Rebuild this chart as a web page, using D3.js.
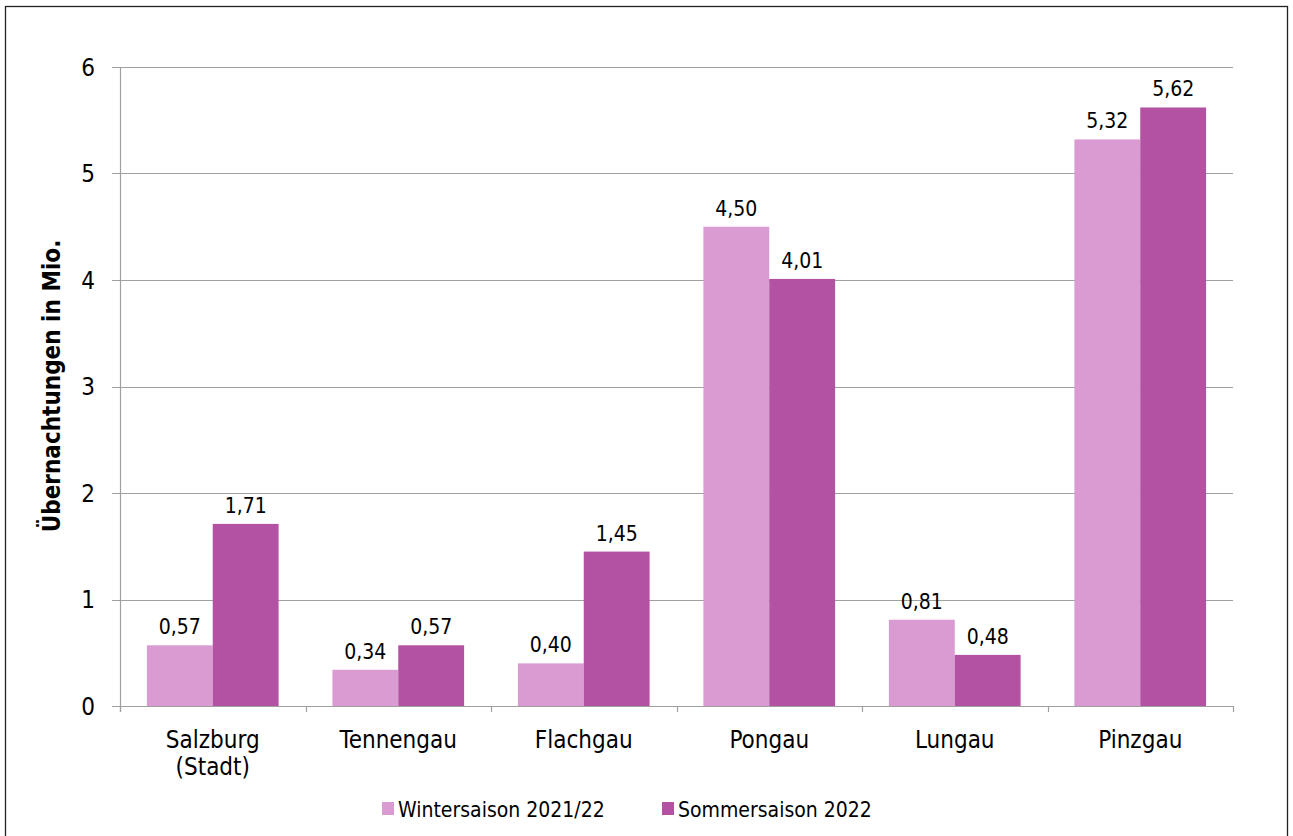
<!DOCTYPE html>
<html><head><meta charset="utf-8">
<script src="https://cdn.jsdelivr.net/npm/d3@7"></script>
<style>body{margin:0;background:#fff}svg{display:block}text{font-family:"DejaVu Sans Condensed","DejaVu Sans",sans-serif}</style>
</head><body>
<svg id="c" width="1293" height="836"></svg>
<script>
const categories = [["Salzburg","(Stadt)"],["Tennengau"],["Flachgau"],["Pongau"],["Lungau"],["Pinzgau"]];
const winter = [0.57,0.34,0.40,4.50,0.81,5.32];
const summer = [1.71,0.57,1.45,4.01,0.48,5.62];
const seriesNames = ["Wintersaison 2021/22","Sommersaison 2022"];
const colors = ["#DA9AD2","#B352A3"];
const yTicks = [0,1,2,3,4,5,6];

const svg = d3.select("#c");
svg.append("rect").attr("x",5.5).attr("y",6.5).attr("width",1282).attr("height",834).attr("fill","none").attr("stroke","#222").attr("stroke-width",1.3);

const L=120,R=1233,T=67,B=706;
const x = d3.scaleBand().domain(d3.range(categories.length)).range([L,R]).paddingInner(0.29).paddingOuter(0.145);
const xs = d3.scaleBand().domain([0,1]).range([0,x.bandwidth()]);
const y = d3.scaleLinear().domain([0,6]).range([B,T]);

// gridlines
svg.append("g").selectAll("line").data(yTicks).join("line")
  .attr("x1",L-8).attr("x2",R).attr("y1",d=>Math.round(y(d))+0.5).attr("y2",d=>Math.round(y(d))+0.5)
  .attr("stroke","#A0A0A0").attr("stroke-width",1.2);
// y axis line
svg.append("line").attr("x1",L+0.5).attr("x2",L+0.5).attr("y1",T).attr("y2",B+6).attr("stroke","#A0A0A0").attr("stroke-width",1.2);
// x ticks at category boundaries
const step = (R-L)/categories.length;
svg.append("g").selectAll("line").data(d3.range(categories.length+1)).join("line")
  .attr("x1",d=>Math.round(L+d*step)+0.5).attr("x2",d=>Math.round(L+d*step)+0.5).attr("y1",B).attr("y2",B+6)
  .attr("stroke","#A0A0A0").attr("stroke-width",1.2);

// y tick labels
svg.append("g").selectAll("text").data(yTicks).join("text")
  .attr("x",L-25).attr("y",d=>y(d)).attr("dy","0.36em").attr("text-anchor","end")
  .attr("font-size",24).attr("fill","#000").text(d=>d);

const data = [winter,summer];
const fmt = v=>v.toFixed(2).replace(".",",");
data.forEach((arr,si)=>{
  const g = svg.append("g");
  g.selectAll("rect").data(arr).join("rect")
    .attr("x",(d,i)=>x(i)+xs(si)).attr("width",xs.bandwidth())
    .attr("y",d=>y(d)).attr("height",d=>B-y(d)).attr("fill",colors[si]);
  g.selectAll("text").data(arr).join("text")
    .attr("x",(d,i)=>x(i)+xs(si)+xs.bandwidth()/2).attr("y",d=>y(d)-11)
    .attr("text-anchor","middle").attr("font-size",21).attr("fill","#000").text(fmt);
});

// category labels
const cl = svg.append("g").selectAll("text").data(categories).join("text")
  .attr("x",(d,i)=>x(i)+x.bandwidth()/2).attr("y",B+42).attr("text-anchor","middle").attr("font-size",24).attr("fill","#000");
cl.selectAll("tspan").data(d=>d).join("tspan").attr("x",function(){return this.parentNode.getAttribute("x");})
  .attr("dy",(d,i)=>i?27:0).text(d=>d);

// y axis title
svg.append("text").attr("transform","translate(60,386) rotate(-90)").attr("text-anchor","middle")
  .attr("font-size",24).attr("font-weight","bold").attr("fill","#000").text("Übernachtungen in Mio.");

// legend
const lg = svg.append("g");
const lx=[382,662];
seriesNames.forEach((n,i)=>{
  lg.append("rect").attr("x",lx[i]).attr("y",802).attr("width",12).attr("height",13).attr("fill",colors[i]);
  lg.append("text").attr("x",lx[i]+16).attr("y",817).attr("font-size",21).attr("fill","#000").text(n);
});
</script>
</body></html>
